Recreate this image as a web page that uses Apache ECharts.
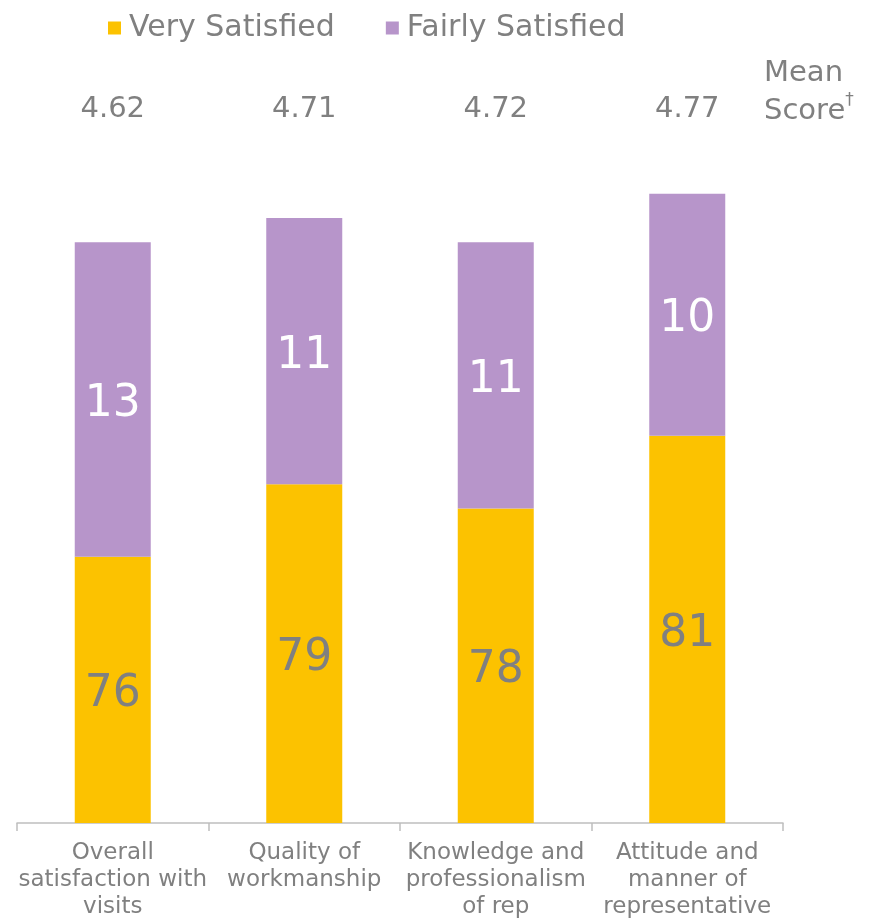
<!DOCTYPE html>
<html><head><meta charset="utf-8">
<script src="https://cdn.jsdelivr.net/npm/echarts@6/dist/echarts.min.js"></script>
<style>html,body{margin:0;padding:0;background:#fff}#c{width:876px;height:921px}</style>
</head><body><div id="c"></div>
<script>
const categories = ['Overall\nsatisfaction with\nvisits', 'Quality of\nworkmanship', 'Knowledge and\nprofessionalism\nof rep', 'Attitude and\nmanner of\nrepresentative'];
const verySatisfied = [76, 79, 78, 81];
const fairlySatisfied = [13, 11, 11, 10];
const meanScores = ['4.62', '4.71', '4.72', '4.77'];
const FONT = 'DejaVu Sans';
const GRAY = '#808080';
const chart = echarts.init(document.getElementById('c'));
chart.setOption({
  animation: false,
  textStyle: {fontFamily: FONT},
  legend: {
    left: 103, top: 8, itemWidth: 13, itemHeight: 13, itemGap: 51, icon: 'rect',
    textStyle: {fontFamily: FONT, fontSize: 30, color: GRAY, padding: [0, 0, 0, 3]}
  },
  graphic: [{
    type: 'text', left: 764, top: 54,
    style: {
      text: 'Mean\nScore{d|\u2020}', fontFamily: FONT, fontSize: 29, lineHeight: 38, fill: GRAY,
      rich: {d: {fontSize: 17, verticalAlign: 'top', fontFamily: FONT, fill: GRAY, padding: [0, 0, 12, 0]}}
    }
  }],
  grid: {left: 17, right: 93, top: 97, bottom: 98, containLabel: false},
  xAxis: [{
    type: 'category', data: categories, position: 'bottom',
    axisLine: {lineStyle: {color: '#bfbfbf', width: 1.5}},
    axisTick: {show: true, length: 8, lineStyle: {color: '#bfbfbf', width: 1.5}},
    axisLabel: {fontFamily: FONT, fontSize: 23, lineHeight: 27, color: GRAY, margin: 17, interval: 0}
  }, {
    type: 'category', data: meanScores, position: 'top',
    axisLine: {show: false}, axisTick: {show: false},
    axisLabel: {fontFamily: FONT, fontSize: 29, color: GRAY, margin: -12, verticalAlign: 'middle'}
  }],
  yAxis: {type: 'value', min: 65, max: 95, show: false, splitLine: {show: false}},
  series: [{
    name: 'Very Satisfied', type: 'bar', stack: 's', data: verySatisfied, barWidth: 76,
    itemStyle: {color: '#FCC200'}, clip: true,
    label: {show: true, position: 'inside', offset: [0, 5], fontFamily: FONT, fontSize: 44, color: GRAY}
  }, {
    name: 'Fairly Satisfied', type: 'bar', stack: 's', data: fairlySatisfied, barWidth: 76,
    itemStyle: {color: '#B795CA'},
    label: {show: true, position: 'inside', offset: [0, 5], fontFamily: FONT, fontSize: 44, color: '#fff'}
  }]
});
</script></body></html>
